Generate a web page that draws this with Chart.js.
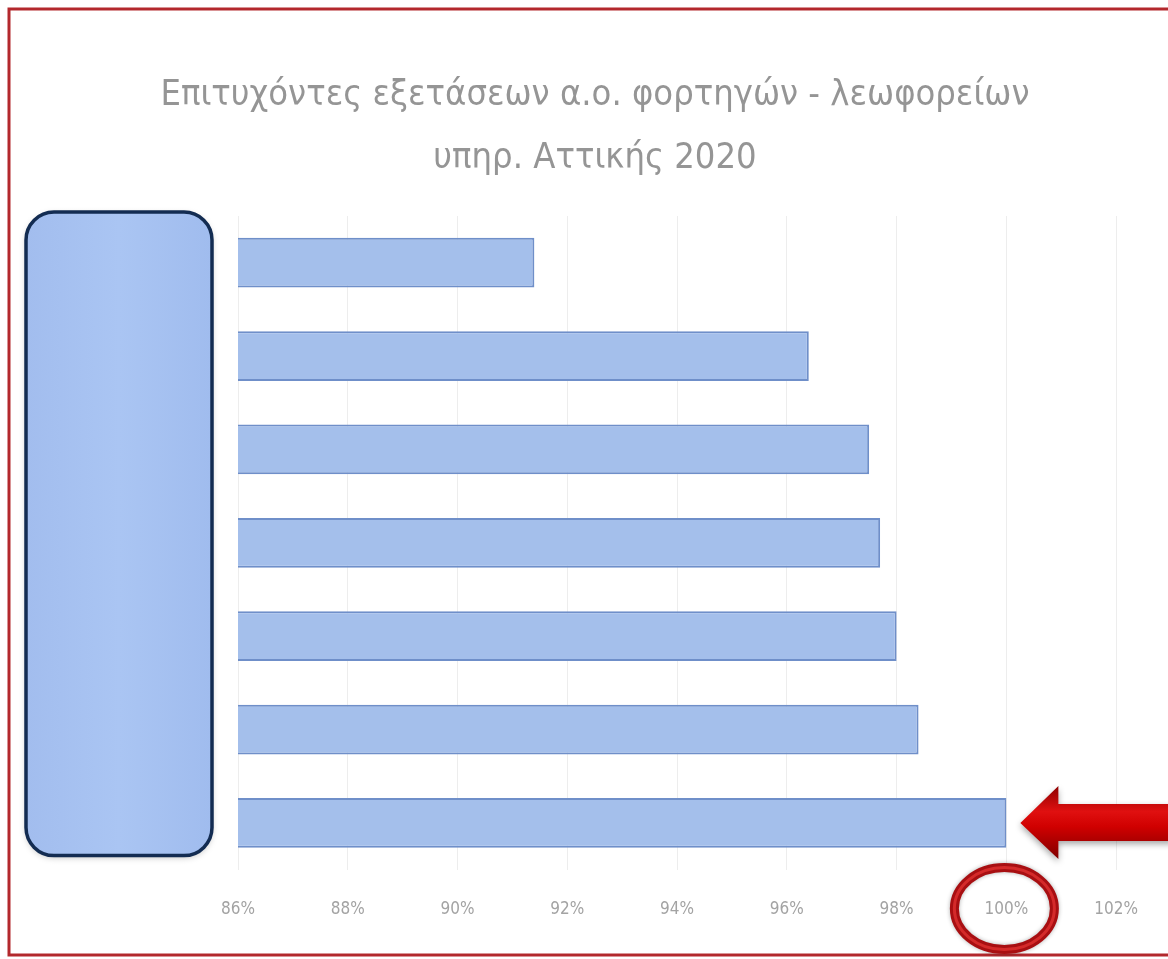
<!DOCTYPE html>
<html>
<head>
<meta charset="utf-8">
<script src="https://cdn.jsdelivr.net/npm/chart.js@4.4.1/dist/chart.umd.min.js"></script>
<style>
  body { margin: 0; background: #fff; }
  #wrap { width: 1168px; height: 959px; }
</style>
</head>
<body>
<div id="wrap"><canvas id="chart" width="1168" height="959"></canvas></div>
<script>
// data (labels are hidden behind the blue box)
const categories = ['Κέντρο 1', 'Κέντρο 2', 'Κέντρο 3', 'Κέντρο 4', 'Κέντρο 5', 'Κέντρο 6', 'Κέντρο 7'];
const passRate = [91.4, 96.4, 97.5, 97.7, 98.0, 98.4, 100.0];
const titleLines = ['Επιτυχόντες εξετάσεων α.ο. φορτηγών - λεωφορείων', 'υπηρ. Αττικής 2020'];
const xMin = 86, xMax = 102, xStep = 2;
const highlightValue = 100;

const FONT = '"Liberation Sans Narrow", "DejaVu Sans Condensed", sans-serif';

// frame, title, blue box, arrow and circle drawn on top
const decorations = {
  id: 'decorations',
  beforeDraw(chart) {
    const ctx = chart.ctx;
    ctx.save();
    ctx.fillStyle = '#fff';
    ctx.fillRect(0, 0, chart.width, chart.height);
    ctx.restore();
  },
  afterDraw(chart) {
    const ctx = chart.ctx;
    const x = chart.scales.x;
    const area = chart.chartArea;

    // red frame
    ctx.save();
    ctx.strokeStyle = '#b3282d';
    ctx.lineWidth = 3;
    ctx.strokeRect(9, 9, chart.width + 10, 946);
    ctx.restore();

    // title
    ctx.save();
    ctx.fillStyle = '#959595';
    ctx.font = '36px ' + FONT;
    ctx.textAlign = 'center';
    ctx.textBaseline = 'middle';
    ctx.fillText(titleLines[0], 595, 96);
    ctx.fillText(titleLines[1], 595, 159);
    ctx.restore();

    // blue rounded box over the category labels
    ctx.save();
    const bx = 26, by = area.top - 4, bw = 186, bh = area.bottom - area.top - 10;
    const g = ctx.createLinearGradient(bx, by, bx + bw, by);
    g.addColorStop(0, '#a2bdee');
    g.addColorStop(0.5, '#aac5f3');
    g.addColorStop(1, '#a0bcee');
    ctx.shadowColor = 'rgba(0,0,0,0.25)';
    ctx.shadowBlur = 6;
    ctx.shadowOffsetY = 2;
    ctx.beginPath();
    ctx.roundRect(bx, by, bw, bh, 28);
    ctx.fillStyle = g;
    ctx.fill();
    ctx.shadowColor = 'transparent';
    ctx.lineWidth = 3.5;
    ctx.strokeStyle = '#132c52';
    ctx.stroke();
    ctx.restore();

    // red arrow pointing at the highlighted bar
    const lastBar = chart.getDatasetMeta(0).data[passRate.length - 1];
    const tipX = x.getPixelForValue(highlightValue) + 14;
    const cy = lastBar.y;
    ctx.save();
    const ag = ctx.createLinearGradient(0, cy - 38, 0, cy + 38);
    ag.addColorStop(0, '#8a0000');
    ag.addColorStop(0.35, '#e01010');
    ag.addColorStop(0.55, '#d00000');
    ag.addColorStop(1, '#7a0000');
    ctx.shadowColor = 'rgba(0,0,0,0.35)';
    ctx.shadowBlur = 6;
    ctx.shadowOffsetY = 3;
    ctx.beginPath();
    ctx.moveTo(tipX, cy);
    ctx.lineTo(tipX + 38, cy - 37);
    ctx.lineTo(tipX + 38, cy - 19);
    ctx.lineTo(chart.width + 5, cy - 19);
    ctx.lineTo(chart.width + 5, cy + 18);
    ctx.lineTo(tipX + 38, cy + 18);
    ctx.lineTo(tipX + 38, cy + 36);
    ctx.closePath();
    ctx.fillStyle = ag;
    ctx.fill();
    ctx.restore();

    // red ring around the 100% tick label
    ctx.save();
    const ex = x.getPixelForValue(highlightValue) - 2;
    const ey = area.bottom + 39;
    ctx.shadowColor = 'rgba(0,0,0,0.3)';
    ctx.shadowBlur = 4;
    ctx.beginPath();
    ctx.ellipse(ex, ey, 50, 41, 0, 0, Math.PI * 2);
    ctx.lineWidth = 9;
    ctx.strokeStyle = '#a80f12';
    ctx.stroke();
    ctx.shadowColor = 'transparent';
    ctx.lineWidth = 3;
    ctx.strokeStyle = '#d42a2a';
    ctx.stroke();
    ctx.restore();
  }
};

new Chart(document.getElementById('chart'), {
  type: 'bar',
  data: {
    labels: categories,
    datasets: [{
      data: passRate,
      backgroundColor: '#a4bfeb',
      borderColor: '#6f8fc9',
      borderWidth: 2,
      borderSkipped: false,
      barPercentage: 0.56,
      categoryPercentage: 0.95
    }]
  },
  options: {
    indexAxis: 'y',
    responsive: false,
    animation: false,
    layout: { padding: { left: 238, right: 48, top: 216, bottom: 9 } },
    plugins: {
      legend: { display: false },
      title: { display: false },
      tooltip: { enabled: false }
    },
    scales: {
      x: {
        min: xMin,
        max: xMax,
        border: { display: false },
        grid: { color: '#ededed', drawTicks: false },
        ticks: {
          stepSize: xStep,
          padding: 30,
          color: '#a3a3a3',
          font: { family: FONT, size: 17 },
          callback: v => v + '%'
        }
      },
      y: {
        display: false
      }
    }
  },
  plugins: [decorations]
});
</script>
</body>
</html>
